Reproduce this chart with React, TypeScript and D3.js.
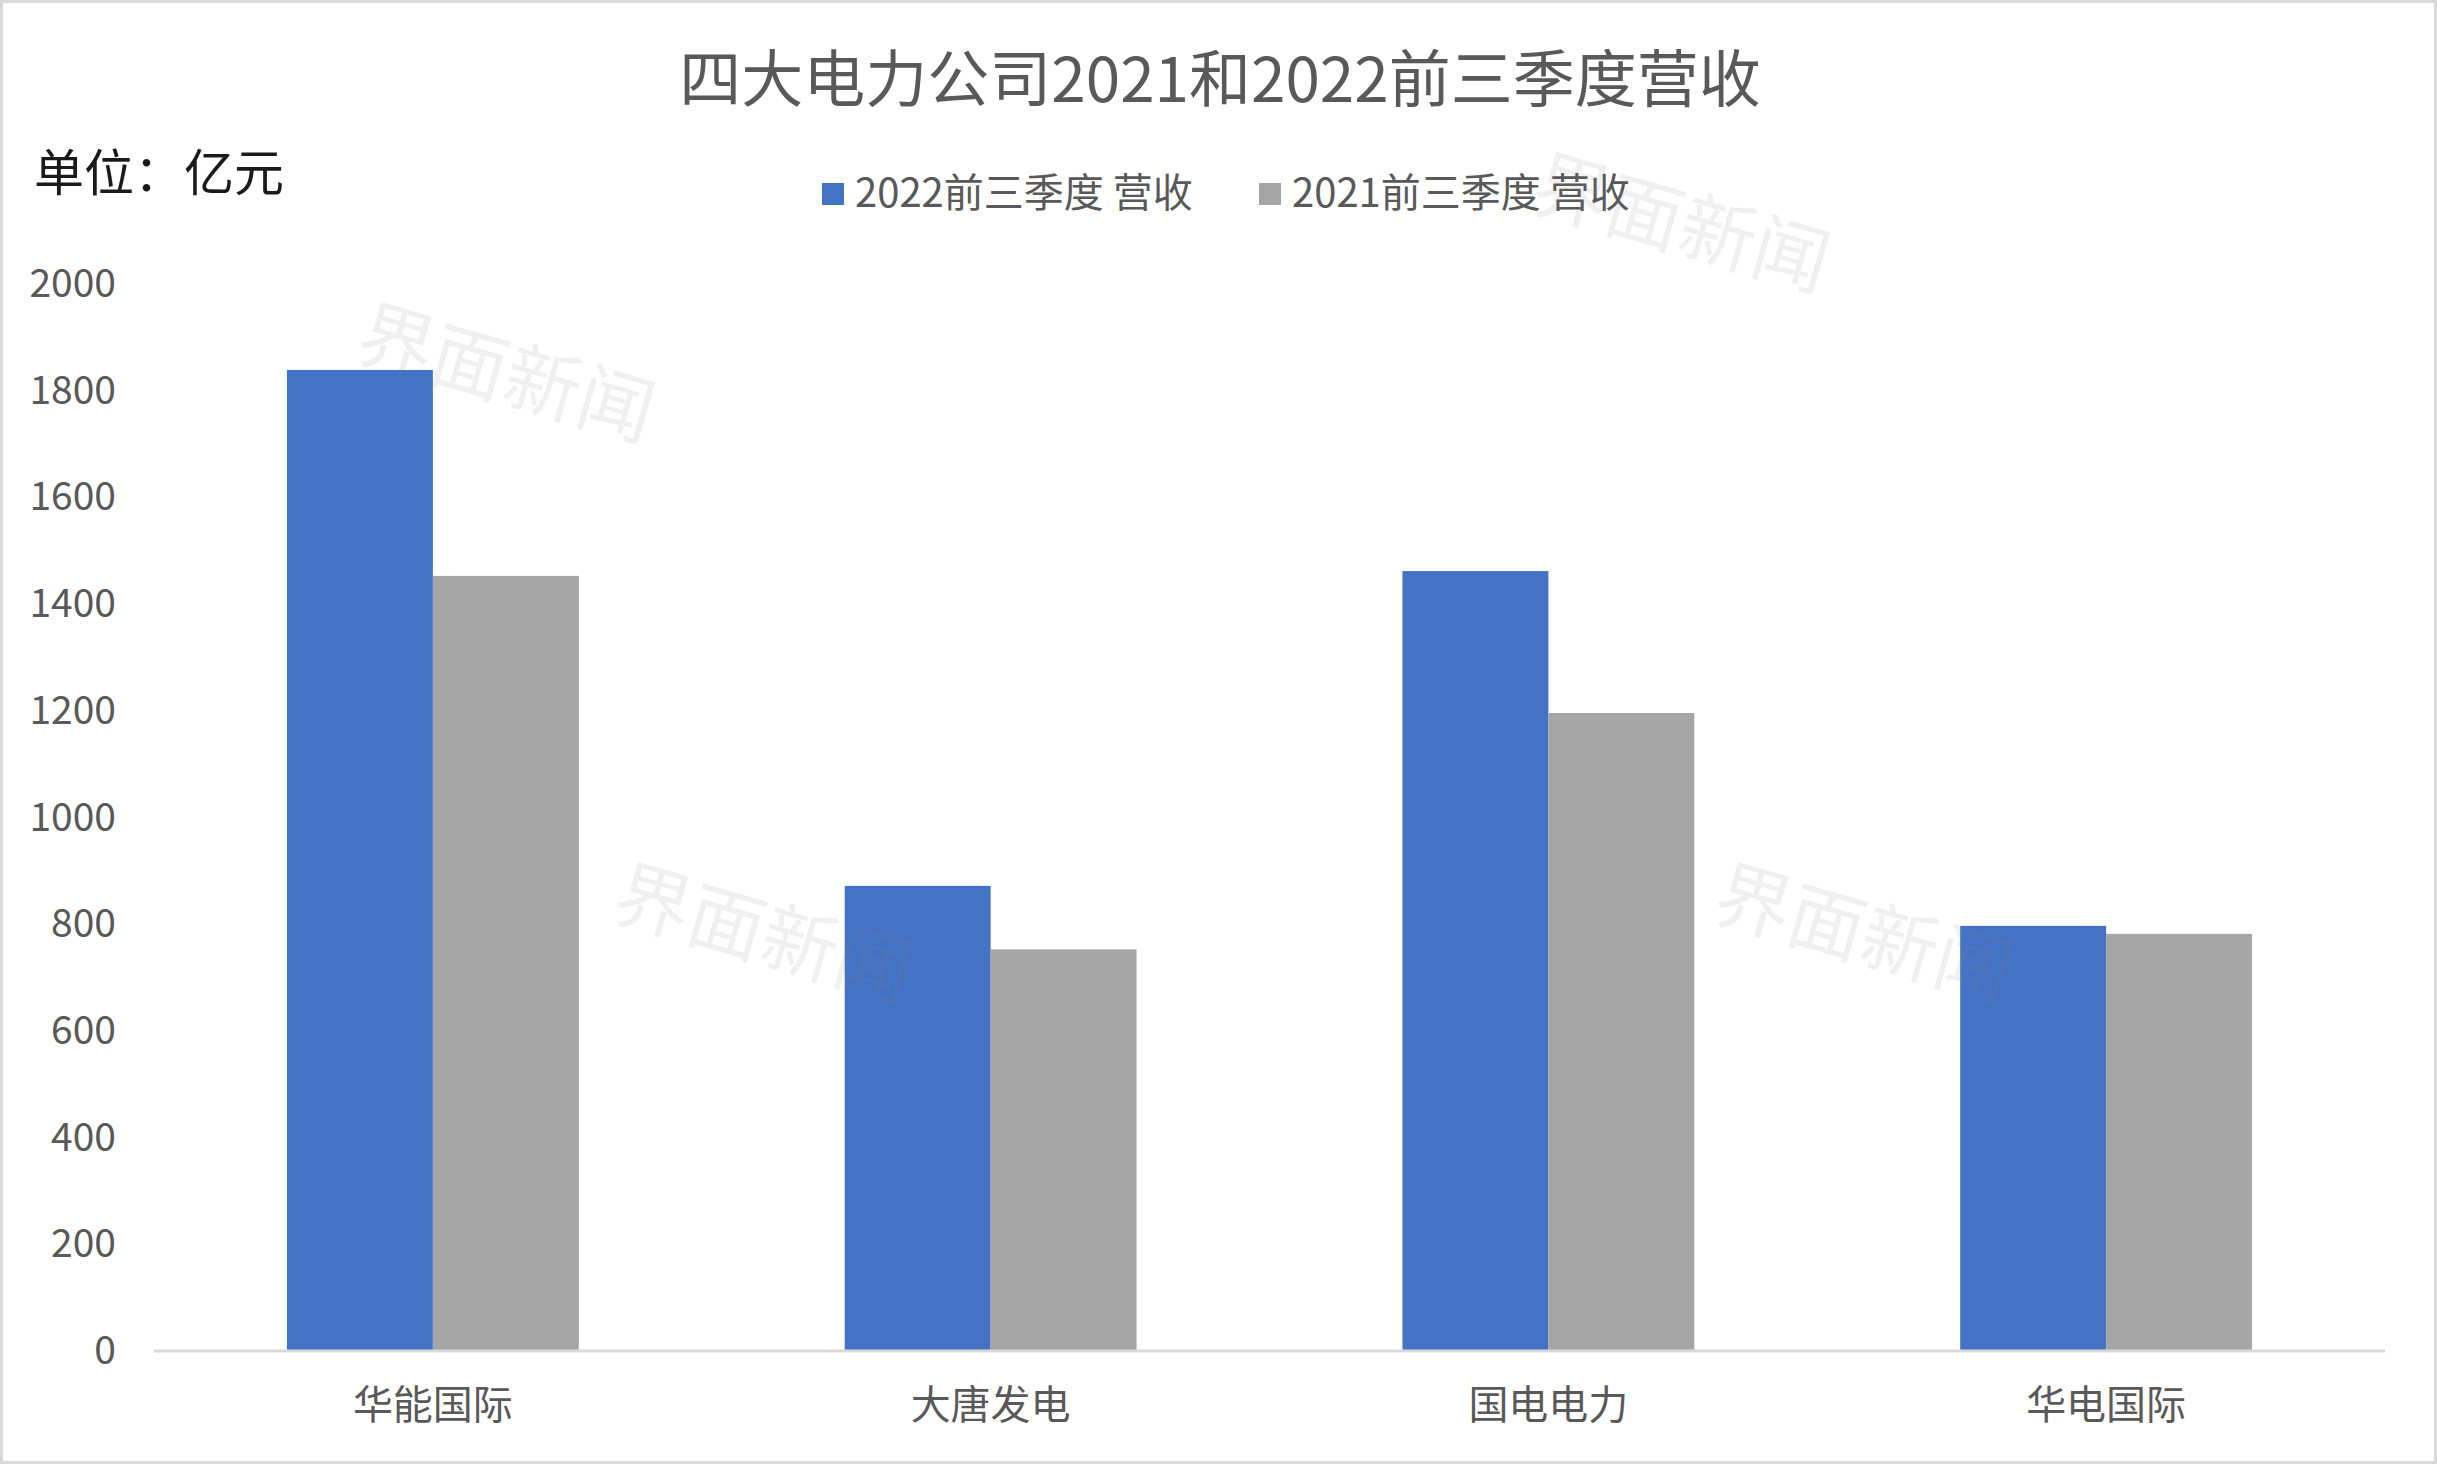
import React, { useEffect } from "react";
import * as d3 from "d3";

const categories = ["华能国际", "大唐发电", "国电电力", "华电国际"];
const seriesNames = ["2022前三季度 营收", "2021前三季度 营收"];
const values2022 = [1837, 870, 1460, 795];
const values2021 = [1451, 751, 1194, 780];
const yTicks = [0, 200, 400, 600, 800, 1000, 1200, 1400, 1600, 1800, 2000];
const seriesColors = ["#4472C4", "#A5A5A5"];
const titleText = "四大电力公司2021和2022前三季度营收";
const unitText = "单位：亿元";
const watermarkText = "界面新闻";

const W = 2437;
const H = 1464;
const FONT = "'Noto Sans CJK SC', 'Noto Sans', sans-serif";

export default function App() {
  useEffect(() => {
    document.body.style.margin = "0";
  }, []);

  const x0 = d3.scaleBand<string>().domain(categories).range([154, 2385]).padding(0);
  const x1 = d3
    .scaleBand<string>()
    .domain(seriesNames)
    .range([0, x0.bandwidth()])
    .paddingInner(0)
    .paddingOuter(0.911);
  const y = d3.scaleLinear().domain([0, 2000]).range([1350, 283]);

  const seriesValues = [values2022, values2021];

  const watermarks = [
    [508, 368],
    [765, 928],
    [1865, 928],
    [1683, 218],
  ];

  return (
    <svg width={W} height={H} style={{ display: "block", background: "#fff" }}>
      <rect x={1.5} y={1.5} width={W - 3} height={H - 3} fill="#fff" stroke="#D9D9D9" strokeWidth={3} />
      <text
        x={1220}
        y={75}
        textAnchor="middle"
        dominantBaseline="central"
        fontFamily={FONT}
        fontSize={62}
        fill="#595959"
      >
        {titleText}
      </text>
      <text x={34} y={169} dominantBaseline="central" fontFamily={FONT} fontSize={50} fill="#1a1a1a">
        {unitText}
      </text>
      {/* legend */}
      {seriesNames.map((s, i) => {
        const lx = i === 0 ? 822 : 1259;
        return (
          <g key={s}>
            <rect x={lx} y={183} width={22} height={22} fill={seriesColors[i]} />
            <text
              x={lx + 33}
              y={190}
              dominantBaseline="central"
              fontFamily={FONT}
              fontSize={40}
              fill="#595959"
            >
              {s}
            </text>
          </g>
        );
      })}
      {/* y ticks */}
      {yTicks.map((t) => (
        <text
          key={t}
          x={116}
          y={y(t) - 3}
          textAnchor="end"
          dominantBaseline="central"
          fontFamily={FONT}
          fontSize={39}
          fill="#595959"
        >
          {t}
        </text>
      ))}
      {/* bars */}
      {categories.map((c, ci) => (
        <g key={c} transform={`translate(${x0(c)},0)`}>
          {seriesNames.map((s, si) => {
            const v = seriesValues[si][ci];
            return (
              <rect
                key={s}
                x={x1(s)}
                y={y(v)}
                width={x1.bandwidth()}
                height={y(0) - y(v)}
                fill={seriesColors[si]}
              />
            );
          })}
        </g>
      ))}
      {/* axis line */}
      <line x1={154} x2={2385} y1={y(0) + 1} y2={y(0) + 1} stroke="#D9D9D9" strokeWidth={3} />
      {/* category labels */}
      {categories.map((c) => (
        <text
          key={c}
          x={(x0(c) as number) + x0.bandwidth() / 2}
          y={1402}
          textAnchor="middle"
          dominantBaseline="central"
          fontFamily={FONT}
          fontSize={40}
          fill="#595959"
        >
          {c}
        </text>
      ))}
      {/* watermarks */}
      {watermarks.map(([wx, wy], i) => (
        <text
          key={i}
          x={wx}
          y={wy}
          textAnchor="middle"
          dominantBaseline="central"
          fontFamily={FONT}
          fontSize={76}
          fill="#808080"
          fillOpacity={0.12}
          transform={`rotate(16 ${wx} ${wy})`}
        >
          {watermarkText}
        </text>
      ))}
    </svg>
  );
}
